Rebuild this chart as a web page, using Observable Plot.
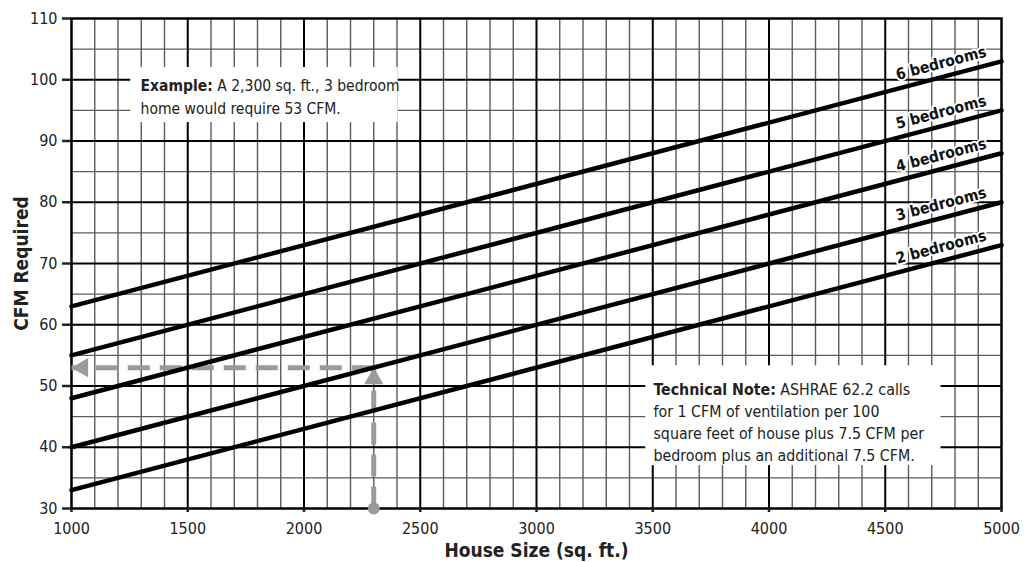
<!DOCTYPE html>
<html><head><meta charset="utf-8">
<script src="https://cdn.jsdelivr.net/npm/d3@7"></script>
<script src="https://cdn.jsdelivr.net/npm/@observablehq/plot@0.6"></script>
<style>
html,body{margin:0;padding:0;background:#fff;}
#chart svg{display:block;}
</style></head><body><div id="chart"></div>
<script>
// ---- data ----
const bedroomLabels = ["2 bedrooms","3 bedrooms","4 bedrooms","5 bedrooms","6 bedrooms"];
const houseSizes = [1000, 5000];
const cfmAtSmallest = [33, 40, 48, 55, 63];
const cfmAtLargest = [73, 80, 88, 95, 103];
const xTicks = [1000,1500,2000,2500,3000,3500,4000,4500,5000];
const yTicks = [30,40,50,60,70,80,90,100,110];
const exampleSize = 2300;
const exampleCfm = 53;
const labelSize = 4740;
const exampleLines = ["Example: A 2,300 sq. ft., 3 bedroom", "home would require 53 CFM."];
const noteLines = ["Technical Note: ASHRAE 62.2 calls","for 1 CFM of ventilation per 100","square feet of house plus 7.5 CFM per","bedroom plus an additional 7.5 CFM."];
const exampleBox = {x1: 1255, x2: 2405, y1: 93, y2: 102};
const noteBox = {x1: 3470, x2: 4740, y1: 37, y2: 53.3};

// ---- derived tables ----
const lines = bedroomLabels.flatMap((b, i) => [
  {bed: b, size: houseSizes[0], cfm: cfmAtSmallest[i]},
  {bed: b, size: houseSizes[1], cfm: cfmAtLargest[i]}
]);
const labels = bedroomLabels.map((b, i) => ({
  bed: b, size: labelSize,
  cfm: cfmAtSmallest[i] + (cfmAtLargest[i] - cfmAtSmallest[i]) * (labelSize - houseSizes[0]) / (houseSizes[1] - houseSizes[0])
}));
const minorX = d3.range(xTicks[0], xTicks[xTicks.length-1], 100).filter(d => d % 500 !== 0);
const majorX = xTicks.slice(1, -1);
const minorY = d3.range(35, 110, 10);
const majorY = yTicks.slice(1, -1);

const W = 1032, H = 562;
const mL = 71, mR = 31, mT = 18, mB = 54;
const slopePx = ((cfmAtLargest[0]-cfmAtSmallest[0]) / 80 * (H - mT - mB)) / (W - mL - mR);
const angle = -Math.atan(slopePx) * 180 / Math.PI;

const font = "'Liberation Sans Narrow','DejaVu Sans Condensed','Roboto Condensed','Arial Narrow',sans-serif";
const gray = "#9a9a9a";

const plot = Plot.plot({
  width: W, height: H,
  marginLeft: mL, marginRight: mR, marginTop: mT, marginBottom: mB,
  style: {fontFamily: font, fontSize: "15px", color: "#222", background: "#fff", overflow: "visible"},
  x: {domain: houseSizes},
  y: {domain: [30, 110]},
  marks: [
    Plot.ruleX(minorX, {stroke: "#5c5c5c", strokeWidth: 1.4}),
    Plot.ruleY(minorY, {stroke: "#5c5c5c", strokeWidth: 1.4}),
    Plot.ruleX(majorX, {stroke: "#000", strokeWidth: 2}),
    Plot.ruleY(majorY, {stroke: "#000", strokeWidth: 2}),
    Plot.rect([exampleBox, noteBox], {x1: "x1", x2: "x2", y1: "y1", y2: "y2", fill: "#fff"}),
    Plot.frame({stroke: "#000", strokeWidth: 2.5}),
    Plot.axisX({ticks: xTicks, tickSize: 4, tickPadding: 10, tickFormat: d => String(d), strokeWidth: 2.5, fontSize: 16,
      label: "House Size (sq. ft.)", labelAnchor: "center", labelArrow: "none", labelOffset: 48}),
    Plot.axisY({ticks: yTicks, tickSize: 9, tickPadding: 5, tickFormat: d => String(d), strokeWidth: 2.5, fontSize: 16,
      label: "CFM Required", labelAnchor: "center", labelArrow: "none", labelOffset: 57}),
    // example arrows
    Plot.line([{x: exampleSize, y: 30}, {x: exampleSize, y: exampleCfm}], {x: "x", y: "y", stroke: gray, strokeWidth: 5, strokeDasharray: "22,10", strokeLinecap: "butt"}),
    Plot.line([{x: exampleSize, y: exampleCfm}, {x: houseSizes[0], y: exampleCfm}], {x: "x", y: "y", stroke: gray, strokeWidth: 5, strokeDasharray: "22,10", strokeLinecap: "butt"}),
    Plot.dot([{x: exampleSize, y: 30}], {x: "x", y: "y", r: 6, fill: gray}),
    Plot.dot([{x: exampleSize, y: exampleCfm}], {x: "x", y: "y", symbol: "triangle", r: 7.2, fill: gray, dy: 11}),
    Plot.dot([{x: houseSizes[0], y: exampleCfm}], {x: "x", y: "y", symbol: "triangle", r: 7.2, fill: gray, rotate: -90, dx: 11}),
    // bedroom lines
    Plot.line(lines, {x: "size", y: "cfm", z: "bed", stroke: "#000", strokeWidth: 4.5, strokeLinecap: "round"}),
    Plot.text(labels, {x: "size", y: "cfm", text: "bed", rotate: angle, dy: -14, fontWeight: "bold", fontSize: 15.5,
      fill: "#111", stroke: "#fff", strokeWidth: 4, textAnchor: "middle"}),
    // notes
    Plot.text([exampleLines.join("\n")], {x: () => 1297, y: () => 100.7, text: d => d, textAnchor: "start", lineAnchor: "top",
      lineHeight: 1.45, fontSize: 15.5, fill: "#222"}),
    Plot.text([noteLines.join("\n")], {x: () => 3503, y: () => 51.1, text: d => d, textAnchor: "start", lineAnchor: "top",
      lineHeight: 1.4, fontSize: 15.8, fill: "#222"})
  ]
});

// bold lead-in words in the notes
d3.select(plot).selectAll("tspan").each(function() {
  const t = this.textContent;
  for (const lead of ["Example:", "Technical Note:"]) {
    if (t.startsWith(lead)) {
      this.textContent = "";
      d3.select(this).append("tspan").attr("font-weight", "bold").text(lead);
      d3.select(this).append("tspan").text(t.slice(lead.length));
    }
  }
});
// axis titles bold
d3.select(plot).selectAll("text").filter(function(){ return this.textContent === "House Size (sq. ft.)" || this.textContent === "CFM Required"; })
  .attr("font-weight", "bold").attr("font-size", 19).attr("fill", "#222");

document.getElementById("chart").appendChild(plot);
</script></body></html>
